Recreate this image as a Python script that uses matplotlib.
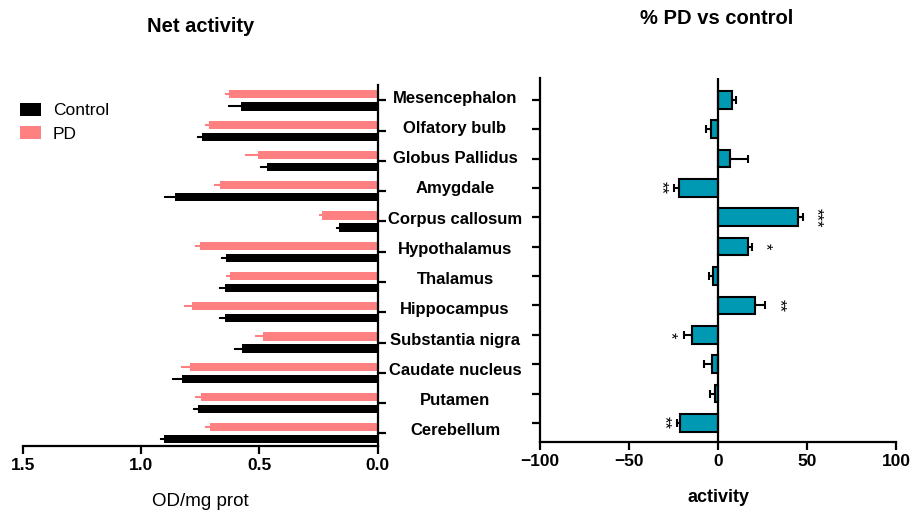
import numpy as np
import matplotlib
matplotlib.use("Agg")
import matplotlib.pyplot as plt
from matplotlib import transforms
from matplotlib.patches import Patch

plt.rcParams['font.family'] = ['Liberation Sans', 'DejaVu Sans']

regions = ['Mesencephalon', 'Olfatory bulb', 'Globus Pallidus', 'Amygdale',
           'Corpus callosum', 'Hypothalamus', 'Thalamus', 'Hippocampus',
           'Substantia nigra', 'Caudate nucleus', 'Putamen', 'Cerebellum']

# net activity, OD/mg prot
pd_vals = [0.629, 0.713, 0.508, 0.668, 0.237, 0.753, 0.626, 0.784, 0.485, 0.795, 0.746, 0.711]
pd_err = [0.011, 0.014, 0.047, 0.021, 0.007, 0.014, 0.010, 0.033, 0.028, 0.031, 0.021, 0.014]
ctrl_vals = [0.579, 0.743, 0.470, 0.859, 0.163, 0.640, 0.644, 0.644, 0.572, 0.826, 0.760, 0.904]
ctrl_err = [0.050, 0.017, 0.024, 0.039, 0.008, 0.017, 0.021, 0.024, 0.033, 0.040, 0.017, 0.014]

# % PD vs control
pct_vals = [7.9, -3.8, 6.5, -21.7, 44.9, 16.6, -2.8, 21.0, -14.6, -3.4, -1.5, -21.2]
pct_err = [2.2, 2.8, 10.1, 2.8, 2.9, 2.5, 2.1, 5.6, 4.7, 4.3, 2.8, 1.8]
sig = ['', '', '', '**', '***', '*', '', '**', '*', '', '', '**']

pink = '#ff8080'
teal = '#0099b4'
W, H = 915, 515

fig = plt.figure(figsize=(W / 100, H / 100), dpi=100)
ax1 = fig.add_axes([23 / W, (H - 446) / H, (377.7 - 23) / W, (446 - 85) / H])
ax2 = fig.add_axes([540 / W, (H - 441.7) / H, (896 - 540) / W, (441.7 - 78.3) / H])

y = np.arange(len(regions))
zeros = np.zeros(len(regions))

# left panel
ax1.barh(y - 0.2, pd_vals, height=0.27, color=pink,
         xerr=[zeros, pd_err],
         error_kw=dict(ecolor=pink, elinewidth=1.5, capsize=1, capthick=1.5))
ax1.barh(y + 0.2, ctrl_vals, height=0.27, color='black',
         xerr=[zeros, ctrl_err],
         error_kw=dict(ecolor='black', elinewidth=1.5, capsize=1, capthick=1.5))
ax1.set_xlim(1.5, 0)
ax1.set_ylim(11.42, -0.51)
ax1.set_xticks([1.5, 1.0, 0.5, 0.0])
ax1.set_yticks(y)
ax1.set_yticklabels([])
ax1.yaxis.tick_right()
for s in ['top', 'left']:
    ax1.spines[s].set_visible(False)
for s in ['bottom', 'right']:
    ax1.spines[s].set_linewidth(1.6)
ax1.tick_params(axis='both', width=1.6, length=6)
ax1.tick_params(axis='x', labelsize=12.5, pad=3)
for t in ax1.get_xticklabels():
    t.set_fontweight('bold')
ax1.set_xlabel('OD/mg prot', fontsize=13.5, labelpad=14)

# region names between the panels
tr = transforms.blended_transform_factory(fig.transFigure, ax1.transData)
for i, name in enumerate(regions):
    ax1.text(455 / W, i - 0.08, name, transform=tr, ha='center', va='center',
             fontsize=12, fontweight='bold', clip_on=False)

# right panel
pct = np.array(pct_vals)
perr = np.array(pct_err)
lo = np.where(pct < 0, perr, 0)
hi = np.where(pct > 0, perr, 0)
ax2.barh(y, pct, height=0.6, color=teal, edgecolor='black', linewidth=1.5,
         xerr=[lo, hi],
         error_kw=dict(ecolor='black', elinewidth=1.5, capsize=3.2, capthick=1.5))
ax2.axvline(0, color='black', lw=1.6)
for i, s in enumerate(sig):
    if s:
        side = np.sign(pct[i])
        ax2.text(pct[i] + side * (perr[i] + 7.5), i, s, rotation=-90,
                 ha='center', va='center', fontsize=12)
ax2.set_xlim(-100, 100)
ax2.set_ylim(11.64, -0.73)
ax2.set_xticks([-100, -50, 0, 50, 100])
ax2.set_yticks(y)
ax2.set_yticklabels([])
for s in ['top', 'right']:
    ax2.spines[s].set_visible(False)
for s in ['bottom', 'left']:
    ax2.spines[s].set_linewidth(1.6)
ax2.tick_params(axis='both', width=1.6, length=6)
ax2.tick_params(axis='x', labelsize=12.5, pad=3)
for t in ax2.get_xticklabels():
    t.set_fontweight('bold')
ax2.set_xlabel('activity', fontsize=13, fontweight='bold', labelpad=14)

fig.text(201 / W, 1 - 26 / H, 'Net activity', ha='center', va='center',
         fontsize=14.5, fontweight='bold')
fig.text(717 / W, 1 - 19 / H, '% PD vs control', ha='center', va='center',
         fontsize=14.5, fontweight='bold')

handles = [Patch(facecolor='black', label='Control'), Patch(facecolor=pink, label='PD')]
fig.legend(handles=handles, loc='upper left', bbox_to_anchor=(20 / W, 1 - 103 / H),
           frameon=False, fontsize=12.5, borderpad=0, borderaxespad=0,
           handlelength=1.2, handleheight=0.75, handletextpad=0.7, labelspacing=0.45)

fig.savefig('out.png', dpi=100)
